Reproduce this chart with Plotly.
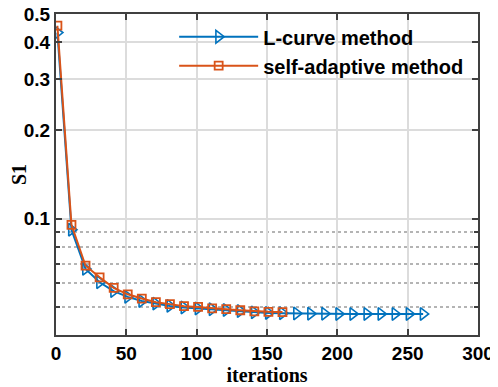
import plotly.graph_objects as go

iters_lcurve = list(range(1, 262, 10))
s1_lcurve = [0.432, 0.0916, 0.0673, 0.0606, 0.0565, 0.0540, 0.0523, 0.0512, 0.0503,
             0.0497, 0.0493, 0.0490, 0.0487, 0.0483, 0.0478, 0.0476, 0.0475, 0.0474,
             0.0473, 0.0473, 0.0472, 0.0472, 0.0472, 0.0472, 0.0472, 0.0472, 0.0472]
iters_adapt = list(range(1, 162, 10))
s1_adapt = [0.456, 0.0952, 0.0690, 0.0630, 0.0580, 0.0551, 0.0533, 0.0518, 0.0510,
            0.0502, 0.0499, 0.0493, 0.0490, 0.0486, 0.0482, 0.0480, 0.0479]

x_ticks = [0, 50, 100, 150, 200, 250, 300]
y_ticks = [0.1, 0.2, 0.3, 0.4, 0.5]
y_ticktext = ["<b>0.1</b>", "<b>0.2</b>", "<b>0.3</b>", "<b>0.4</b>", "<b>0.5</b>"]
y_minor = [0.05, 0.06, 0.07, 0.08, 0.09]

BLUE = "#0072BD"
ORANGE = "#D95319"
AX = "#404040"

fig = go.Figure()
fig.add_trace(go.Scatter(
    x=iters_lcurve, y=s1_lcurve, mode="lines+markers", name="<b>L-curve method</b>",
    line=dict(color=BLUE, width=2),
    marker=dict(symbol="triangle-right-open", size=11, color=BLUE, line=dict(width=1.6, color=BLUE)),
))
fig.add_trace(go.Scatter(
    x=iters_adapt, y=s1_adapt, mode="lines+markers", name="<b>self-adaptive method</b>",
    line=dict(color=ORANGE, width=2),
    marker=dict(symbol="square-open", size=8, color=ORANGE, line=dict(width=1.8, color=ORANGE)),
))

tick_font = dict(family="Liberation Sans, Arial", size=19, color="black")
title_font = dict(family="Liberation Serif, Times New Roman", size=20, color="black")

fig.update_layout(
    width=490, height=379,
    margin=dict(l=48, r=20, t=6, b=52, autoexpand=False),
    paper_bgcolor="white", plot_bgcolor="white",
    showlegend=True,
    legend=dict(
        x=0.28, y=0.99, xanchor="left", yanchor="top",
        bgcolor="rgba(0,0,0,0)", borderwidth=0,
        font=dict(family="Liberation Sans, Arial", size=20, color="black"),
        itemwidth=79, tracegroupgap=0,
    ),
)
fig.update_xaxes(
    range=[0, 300], tickvals=x_ticks, ticktext=[f"<b>{v}</b>" for v in x_ticks],
    showline=True, linecolor=AX, linewidth=2, mirror="ticks",
    ticks="inside", ticklen=6, tickwidth=2, tickcolor=AX,
    showgrid=True, gridcolor="#dcdcdc", gridwidth=1.5, zeroline=False,
    tickfont=tick_font, ticklabeloverflow="allow",
    title=dict(text="<b>iterations</b>", standoff=4, font=title_font),
)
fig.update_yaxes(
    type="log", range=[-1.3979, -0.3010], tickvals=y_ticks, ticktext=y_ticktext,
    showline=True, linecolor=AX, linewidth=2, mirror="ticks",
    ticks="inside", ticklen=6, tickwidth=2, tickcolor=AX,
    showgrid=True, gridcolor="#dcdcdc", gridwidth=1.5, zeroline=False,
    tickfont=tick_font, ticklabeloverflow="allow",
    title=dict(text="<b>S1</b>", standoff=16, font=title_font),
    minor=dict(tickvals=y_minor, ticks="inside", ticklen=4, tickcolor=AX, tickwidth=1.5,
               showgrid=True, gridcolor="#b4b4b4", griddash="dot", gridwidth=2),
)

fig.write_html("out.html")
